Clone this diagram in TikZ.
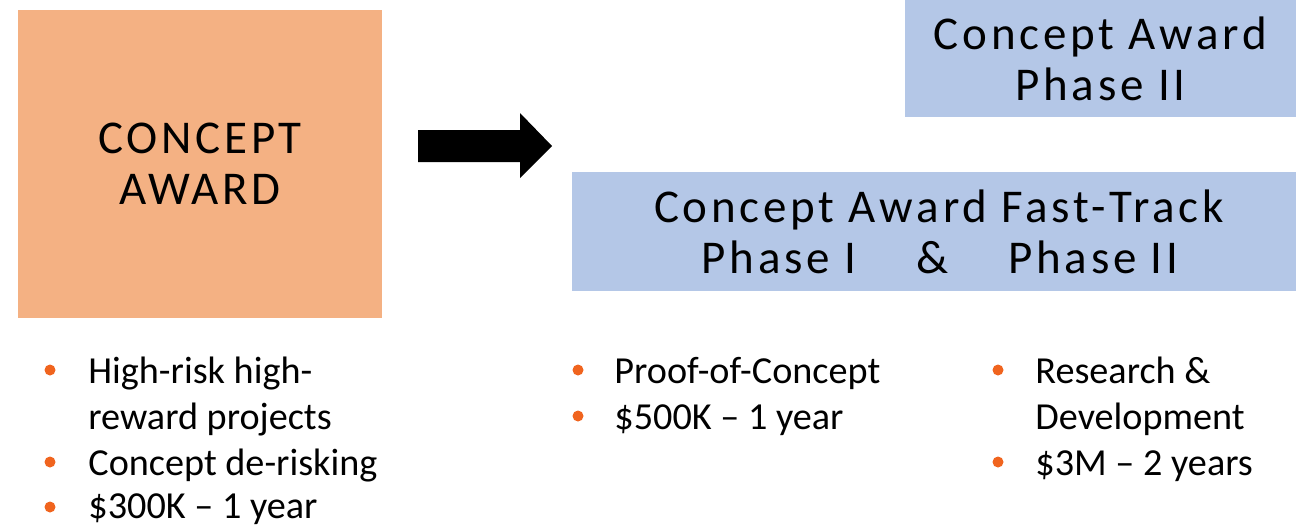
\documentclass[tikz,border=0pt]{standalone}
\usepackage{fontspec}
\setmainfont{Carlito}
\newfontfamily\spacedfont[LetterSpace=8]{Carlito}
\definecolor{awardorange}{HTML}{F4B183}
\definecolor{phaseblue}{HTML}{B4C7E7}
\definecolor{dotorange}{HTML}{F0641E}

\begin{document}
\begin{tikzpicture}[x=0.5pt,y=-0.5pt,
  awardbox/.style={inner sep=0pt,align=center,font=\spacedfont\fontsize{23.5}{25.5}\selectfont},
  item/.style={anchor=base west,align=left,inner sep=0pt,font=\fontsize{19.1}{23}\selectfont},
  bullet/.style={circle,fill=dotorange,inner sep=0pt,minimum size=5.5pt}]

\useasboundingbox (0,0) rectangle (1296,526);

% the three awards
\node[awardbox,fill=awardorange,minimum width=182pt,minimum height=154pt] (concept) at (200,164) {CONCEPT\\AWARD};
\node[awardbox,fill=phaseblue,minimum width=195.5pt,minimum height=58.5pt] (phasetwo) at (1100.5,58.5) {Concept Award\\Phase II};
\node[awardbox,fill=phaseblue,minimum width=362pt,minimum height=59.5pt] (fasttrack) at (934,231.5) {\hspace{5pt}Concept Award Fast-Track\\\hspace{6pt}Phase I\hspace{30pt}\&\hspace{30pt}Phase II};

% block arrow
\fill (418,130) -- (520,130) -- (520,113) -- (552,146) -- (520,178) -- (520,162) -- (418,162) -- cycle;

% concept award
\node[bullet] (dotA) at (50,370) {};
\node[item] (risk) at (88,429) {High-risk high-\\reward projects};
\node[bullet] (dotB) at (50,462) {};
\node[item] (derisk) at (88,475) {Concept de-risking};
\node[bullet] (dotC) at (50,507) {};
\node[item] (costA) at (88,518) {\$300K -- 1 year};

% phase I
\node[bullet] (dotD) at (578,370) {};
\node[item] (proof) at (614,383) {Proof-of-Concept};
\node[bullet] (dotE) at (578,416) {};
\node[item] (costB) at (614,429) {\$500K -- 1 year};

% phase II
\node[bullet] (dotF) at (998,370) {};
\node[item] (rnd) at (1035,429) {Research \&\\Development};
\node[bullet] (dotG) at (998,462) {};
\node[item] (costC) at (1035,475) {\$3M -- 2 years};

\end{tikzpicture}
\end{document}
